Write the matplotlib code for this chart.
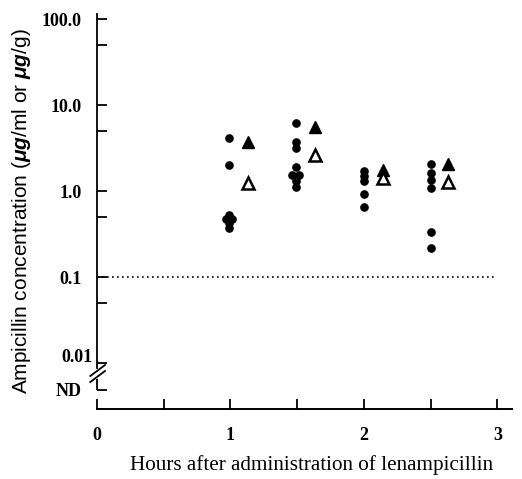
import matplotlib.pyplot as plt
from matplotlib.ticker import FixedLocator, NullFormatter

# 資料 (讀圖估計)
hours_dot = [0.99, 0.99, 0.99, 0.965, 1.015, 0.99, 0.99,
             1.49, 1.49, 1.49, 1.49, 1.465, 1.515, 1.49, 1.49,
             2.0, 2.0, 2.0, 2.0, 2.0,
             2.5, 2.5, 2.5, 2.5, 2.5, 2.5]
conc_dot = [4.1, 2.0, 0.52, 0.47, 0.47, 0.42, 0.37,
            6.2, 3.7, 3.2, 1.9, 1.55, 1.55, 1.3, 1.11,
            1.71, 1.49, 1.31, 0.92, 0.65,
            2.06, 1.62, 1.34, 1.08, 0.33, 0.22]
hours_tri = [1.13, 1.635, 2.14, 2.63]
conc_tri_filled = [3.7, 5.5, 1.75, 2.06]
conc_tri_open = [1.24, 2.62, 1.42, 1.27]
mic = 0.1
y_ticks = [100, 10, 1, 0.1, 0.01]
y_labels = ['100.0', '10.0', '1.0', '0.1', '', 'ND']
x_ticks = [0, 1, 2, 3]


# 像素 -> 數值 (100 在 y=19, 每十倍 86 px)
def px2val(y):
    return 10 ** ((191 - y) / 86)


nd = px2val(390)
tick_font = dict(fontfamily='Liberation Serif', fontweight='bold', fontsize=13)

fig = plt.figure(figsize=(5.22, 4.79), dpi=100)
ax = fig.add_axes([97 / 522, 70 / 479, (512 - 97) / 522, (409 - 14) / 479])
ax.set_yscale('log')
ax.set_xlim(0, 3.11)
ax.set_ylim(px2val(409), px2val(14))

ax.plot(hours_dot, conc_dot, 'o', color='black', markersize=5.2, linestyle='none')
ax.plot(hours_tri, conc_tri_filled, '^', color='black', markersize=8.5, linestyle='none')
ax.plot(hours_tri, conc_tri_open, '^', markerfacecolor='white', markeredgecolor='black',
        markeredgewidth=1.8, markersize=8, linestyle='none')
ax.plot([0, 3.0], [mic, mic], color='black', linewidth=1.2, linestyle=(0, (1, 2)))

# 軸線與斷軸
for s in ['top', 'right']:
    ax.spines[s].set_visible(False)
ax.spines['left'].set_bounds(px2val(368), px2val(14))
ax.spines['left'].set_linewidth(1.3)
ax.spines['bottom'].set_linewidth(1.4)
ax.plot([0, 0], [px2val(379), nd], color='black', linewidth=1.3, clip_on=False,
        solid_capstyle='butt')
for y0 in [376, 382]:
    ax.plot([-0.05, 0.06], [px2val(y0), px2val(y0 - 11)], color='black',
            linewidth=1.3, clip_on=False)

ax.set_xticks(x_ticks, labels=[str(v) for v in x_ticks], **tick_font)
ax.xaxis.set_minor_locator(FixedLocator([0.5, 1.5, 2.5]))
ax.set_yticks(y_ticks + [nd], labels=y_labels, **tick_font)
ax.yaxis.set_minor_locator(FixedLocator([50, 5, 0.5, 0.05]))
ax.yaxis.set_minor_formatter(NullFormatter())
ax.tick_params(axis='both', which='both', direction='in', length=7, width=1.3)
ax.tick_params(axis='x', pad=13)
ax.tick_params(axis='y', pad=11)
# 0.01 標籤稍微偏右上
ax.text(-0.035, px2val(357), '0.01', ha='right', va='center', **tick_font)

plt.rcParams['mathtext.fontset'] = 'custom'
plt.rcParams['mathtext.bf'] = 'Liberation Sans:italic:bold'
fig.text(312 / 522, 1 - 465 / 479, 'Hours after administration of lenampicillin',
         fontfamily='Liberation Serif', fontsize=15.2, ha='center', va='center')
fig.text(22 / 522, 1 - 211 / 479,
         r'Ampicillin concentration ($\mathbf{μg}$/ml or $\mathbf{μg}$/g)',
         fontfamily='Liberation Sans', fontsize=15, rotation=90,
         ha='center', va='center')

plt.savefig('out.png', dpi=100)
